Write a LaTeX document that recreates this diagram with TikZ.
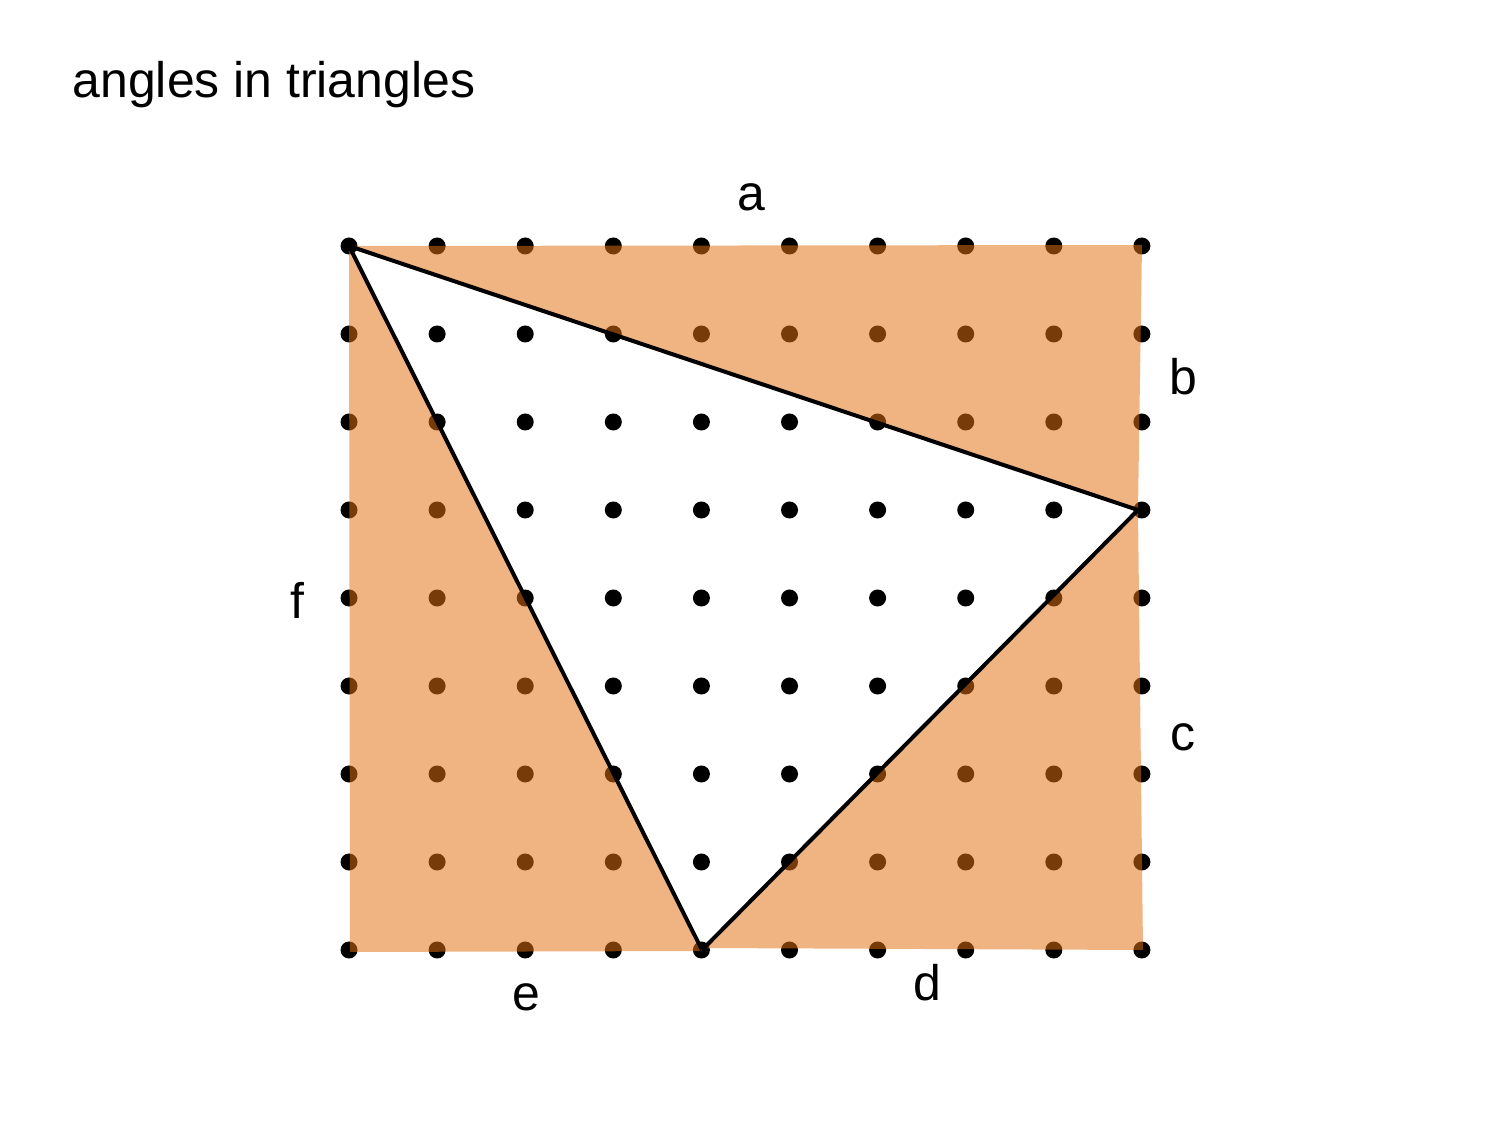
\documentclass[tikz,border=0pt]{standalone}
\usepackage{fontspec}
\setmainfont{Liberation Sans}
\definecolor{peel}{RGB}{226,113,19}
\tikzset{
  pin/.style={circle, fill=black, inner sep=0pt, minimum size=0.17cm},
  lbl/.style={font=\fontsize{14.2}{17}\selectfont, inner sep=0pt}
}
\begin{document}
\begin{tikzpicture}[x=0.01cm, y=-0.01cm]
	\useasboundingbox (0,0) rectangle (1500,1125);
		\node[lbl, anchor=west] (T) at (72,85) {angles in triangles};
	% grid of dots
	\foreach \i in {0,...,9}
		\foreach \j in {0,...,8}
			\node[pin] (p\i\j) at (349+88.1*\i, 246+88*\j) {};
	% corners
		\coordinate (A) at (349,246);
		\coordinate (B) at (1138,510);
		\coordinate (C) at (702,950);
		\coordinate (Q1) at (1142,245);
		\coordinate (Q2) at (1143,950);
		\coordinate (Q3) at (350,952);
	\fill[peel, fill opacity=0.53] (A) -- (Q1) -- (B) -- cycle;
	\fill[peel, fill opacity=0.53] (B) -- (Q2) -- (704,948) -- cycle;
	\fill[peel, fill opacity=0.53] (A) -- (702,951) -- (Q3) -- cycle;
	\draw[line width=.04cm, line join=round] (A) -- (B);
	\draw[line width=.04cm, line join=round] (B) -- (C);
	\draw[line width=.04cm, line join=round] (C) -- (A);
	% labels
		\node[lbl] (a) at (751,197) {a};
		\node[lbl] (b) at (1183,377) {b};
		\node[lbl] (c) at (1183,737) {c};
		\node[lbl] (d) at (927,983) {d};
		\node[lbl] (e) at (526,997) {e};
		\node[lbl] (f) at (297,600) {f};
\end{tikzpicture}
\end{document}
